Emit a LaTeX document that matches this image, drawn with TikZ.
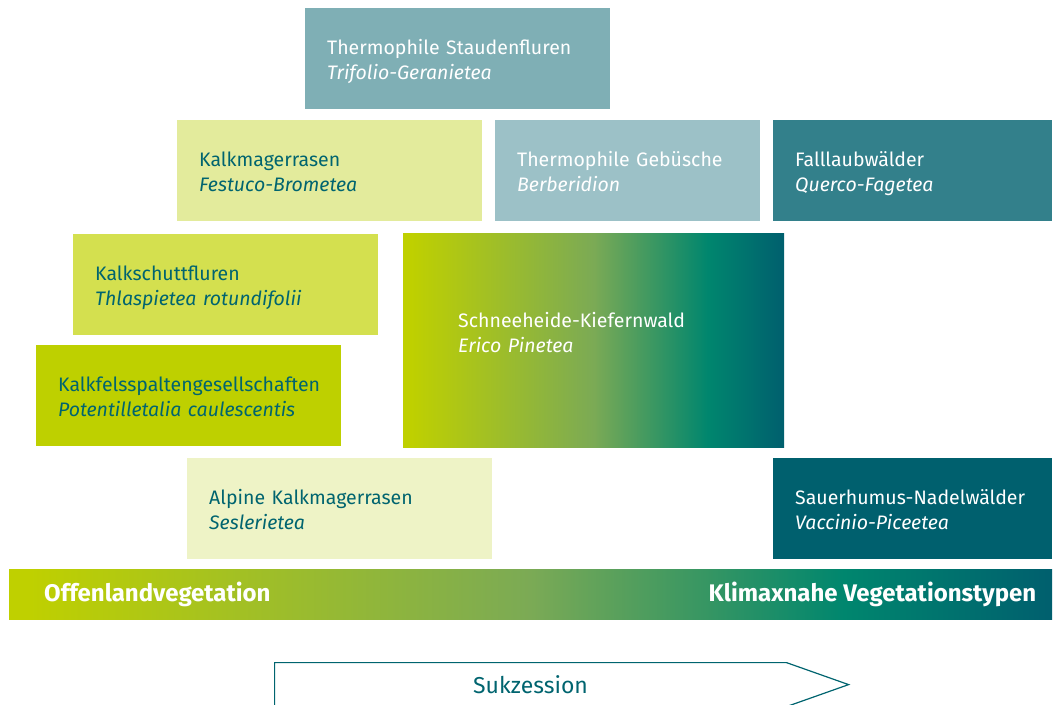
\documentclass[tikz,border=0pt]{standalone}
\usepackage{fontspec}
\setmainfont{Fira Sans}
\usepackage{xcolor}
\usetikzlibrary{positioning,shapes.symbols}
\definecolor{tealtext}{HTML}{00646F}
\definecolor{teal1}{HTML}{7FAFB5}
\definecolor{teal2}{HTML}{9CC1C7}
\definecolor{teal3}{HTML}{33808B}
\definecolor{teal4}{HTML}{00606E}
\definecolor{lime1}{HTML}{E3EB9C}
\definecolor{lime2}{HTML}{D4E04F}
\definecolor{lime3}{HTML}{BED000}
\definecolor{lime4}{HTML}{EEF3C6}
\definecolor{gradA}{HTML}{BFD000}
\definecolor{gradB}{HTML}{7BAA55}
\definecolor{gradC}{HTML}{00866E}
\definecolor{gradD}{HTML}{005F6E}
\pgfdeclarehorizontalshading{succession}{100bp}{%
	color(0bp)=(gradA); color(26bp)=(gradA); color(50bp)=(gradB);
	color(65bp)=(gradC); color(75bp)=(gradD); color(100bp)=(gradD)}
\tikzset{%
	vegbox/.style  = {rectangle, anchor=north west, inner xsep=22pt, inner ysep=0pt, align=left,
		minimum height=101pt, text height=13pt, text depth=22pt, font=\fontsize{19.5}{25}\selectfont},
	light/.style   = {vegbox, text=tealtext},
	dark/.style    = {vegbox, text=white},
	bartext/.style = {text=white, font=\bfseries\fontsize{24}{26}\selectfont, inner sep=0pt},
}

\begin{document}
\begin{tikzpicture}[x=1pt,y=-1pt]
	\clip (0,0) rectangle (1054,704);
	% top row
	\node[dark,fill=teal1,text width=261pt] (stauden) at (305,8)
		{Thermophile Staudenfluren\\\textit{Trifolio-Geranietea}};
	% second row
	\node[light,fill=lime1,text width=261pt] (kalkmager) at (177,120)
		{Kalkmagerrasen\\\textit{Festuco-Brometea}};
	\node[dark,fill=teal2,text width=221pt] (gebuesche) at (495,120)
		{Thermophile Gebüsche\\\textit{Berberidion}};
	\node[dark,fill=teal3,text width=235pt] (falllaub) at (773,120)
		{Falllaubwälder\\\textit{Querco-Fagetea}};
	% middle
	\node[light,fill=lime2,text width=261pt] (schutt) at (73,234)
		{Kalkschuttfluren\\\textit{Thlaspietea rotundifolii}};
	\node[dark,shading=succession,inner xsep=55pt,text width=271pt,minimum height=214pt,text depth=39pt] (kiefer) at (403,233)
		{Schneeheide-Kiefernwald\\\textit{Erico Pinetea}};
	\node[light,fill=lime3,text width=261pt] (fels) at (36,345)
		{Kalkfelsspaltengesellschaften\\\textit{Potentilletalia caulescentis}};
	% bottom row
	\node[light,fill=lime4,text width=261pt] (alpin) at (187,458)
		{Alpine Kalkmagerrasen\\\textit{Seslerietea}};
	\node[dark,fill=teal4,text width=235pt] (nadel) at (773,458)
		{Sauerhumus-Nadelwälder\\\textit{Vaccinio-Piceetea}};
	% gradient bar
	\node[rectangle,anchor=north west,shading=succession,minimum width=1043pt,minimum height=50pt,inner sep=0pt] (bar) at (9,569) {};
	\node[bartext,anchor=west,right=35pt of bar.west] (offen) {Offenlandvegetation};
	\node[bartext,anchor=east,left=16pt of bar.east] (klimax) {Klimaxnahe Vegetationstypen};
	% arrow
	\node[signal,signal to=east,signal pointer angle=39,draw=tealtext,line width=1.2pt,
		minimum width=574pt,minimum height=44pt,anchor=north west,inner sep=0pt,
		text=tealtext,font=\fontsize{23}{26}\selectfont] (sukz) at (274,662) {Sukzession};
\end{tikzpicture}
\end{document}
